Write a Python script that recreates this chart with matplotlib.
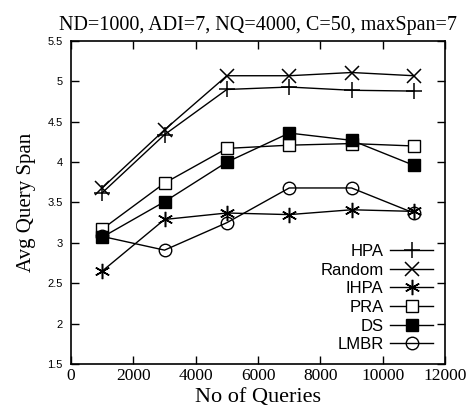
import matplotlib
matplotlib.use("Agg")
import matplotlib.pyplot as plt

# Données
queries = [1000, 3000, 5000, 7000, 9000, 11000]
hpa = [3.62, 4.34, 4.90, 4.93, 4.89, 4.88]
random_ = [3.68, 4.40, 5.07, 5.07, 5.11, 5.07]
ihpa = [2.65, 3.29, 3.37, 3.35, 3.41, 3.39]
pra = [3.17, 3.74, 4.17, 4.21, 4.23, 4.20]
ds = [3.07, 3.51, 4.00, 4.36, 4.27, 3.96]
lmbr = [3.08, 2.91, 3.25, 3.68, 3.68, 3.37]

x_ticks = [0, 2000, 4000, 6000, 8000, 10000, 12000]
y_ticks = [1.5, 2, 2.5, 3, 3.5, 4, 4.5, 5, 5.5]

series = [
    ("HPA", hpa, dict(marker="+", markersize=11, markeredgewidth=1.1)),
    ("Random", random_, dict(marker="x", markersize=9.5, markeredgewidth=1.1)),
    ("IHPA", ihpa, dict(marker=(6, 2, 0), markersize=11, markeredgewidth=1.1)),
    ("PRA", pra, dict(marker="s", markersize=8.5, markerfacecolor="white", markeredgewidth=1.0)),
    ("DS", ds, dict(marker="s", markersize=8.5, markerfacecolor="black")),
    ("LMBR", lmbr, dict(marker="o", markersize=9, markerfacecolor="none", markeredgewidth=1.0)),
]

serif = "Liberation Serif"
sans = "Liberation Sans"
plt.rcParams["font.family"] = serif

fig = plt.figure(figsize=(4.75, 4.11), dpi=100)
ax = fig.add_axes([0.1495, 0.1144, 0.7875, 0.7858])

for name, vals, style in series:
    ax.plot(queries, vals, color="black", linewidth=1.0, label=name, **style)

ax.set_xlim(0, 12000)
ax.set_ylim(1.5, 5.5)
ax.set_xticks(x_ticks)
ax.set_yticks(y_ticks)
ax.tick_params(direction="in", top=True, right=True, length=6, width=1)
ax.tick_params(axis="x", pad=3, labelsize=12.5)
ax.tick_params(axis="y", pad=6, labelsize=8)
ax.set_xticklabels([str(v) for v in x_ticks], fontfamily=serif)
ax.set_yticklabels([f"{v:g}" for v in y_ticks], fontfamily=sans)
for sp in ax.spines.values():
    sp.set_linewidth(1.2)

ax.set_xlabel("No of Queries", fontfamily=serif, fontsize=16, labelpad=3)
ax.set_ylabel("Avg Query Span", fontfamily=serif, fontsize=15, labelpad=8)
ax.set_title("ND=1000, ADI=7, NQ=4000, C=50, maxSpan=7", fontfamily=serif, fontsize=14.5, pad=8)

leg = ax.legend(loc="lower right", frameon=False, markerfirst=False,
                prop={"family": sans, "size": 12}, handlelength=2.6,
                labelspacing=0.22, borderaxespad=0.3, handletextpad=0.4)

fig.savefig("out.png", dpi=100)
